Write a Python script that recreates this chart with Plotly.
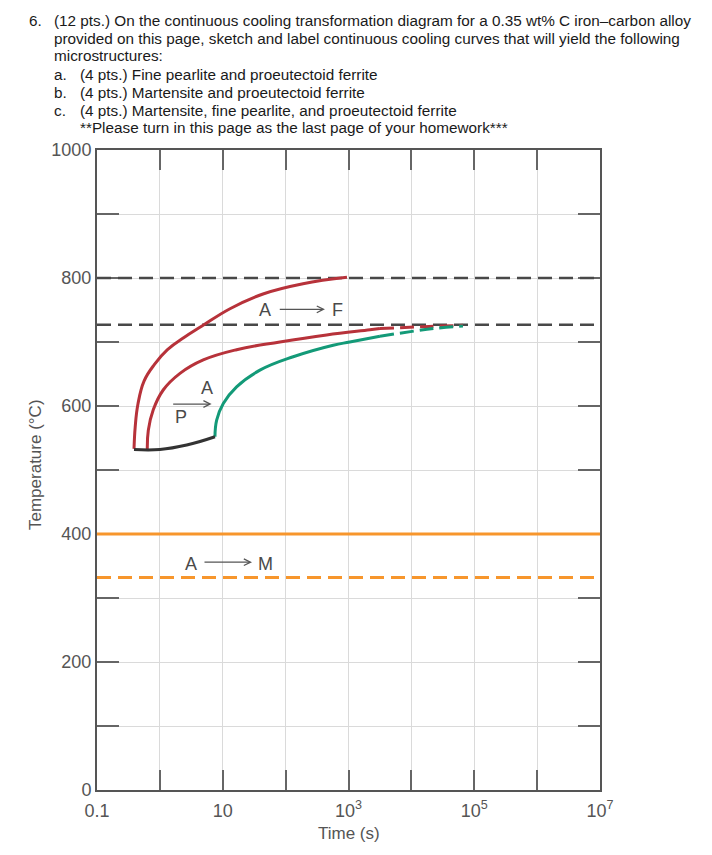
import math
import plotly.graph_objects as go

# ---------------- data ----------------
# axis ticks
x_tickvals = [0.1, 1, 10, 100, 1e3, 1e4, 1e5, 1e6, 1e7]
x_ticktext = ["0.1", "", "10", "", "10<sup>3</sup>", "", "10<sup>5</sup>", "", "10<sup>7</sup>"]
y_tickvals = [0, 100, 200, 300, 400, 500, 600, 700, 800, 900, 1000]
y_ticktext = ["0", "", "200", "", "400", "", "600", "", "800", "", "1000"]

# horizontal reference temperatures (deg C)
x_span = [0.1, 1e7]
T_A3 = 800          # upper dashed line
T_A1 = 727          # eutectoid dashed line
T_Ms = 400          # martensite start (solid orange)
T_M50 = 332         # dashed orange

# ferrite start curve (outer red)
ferr_t = [0.388, 0.405, 0.448, 0.560, 0.820, 1.32, 2.42, 4.68, 13.04, 43.7, 189, 946]
ferr_T = [533, 567, 603, 639, 665, 688, 707, 725, 752, 775, 791, 801]

# pearlite start curve (inner red) - solid and dashed parts
pstart_t = [0.631, 0.655, 0.785, 1.13, 2.09, 4.90, 16.6, 81.1, 449, 2188, 3162]
pstart_T = [532, 562, 594, 625, 651, 672, 688, 700, 711, 719, 721]
pstart_dash_t = [3162, 15850, 66070]
pstart_dash_T = [721, 724, 726]

# pearlite finish curve (green) - solid and dashed parts
pfin_t = [7.52, 8.0, 10.2, 16.6, 39.0, 132, 571, 1047, 3162]
pfin_T = [552, 578, 604, 630, 656, 677, 695, 700, 709]
pfin_dash_t = [3162, 22390, 66070]
pfin_dash_T = [709, 721, 725]

# bottom (black) boundary
bot_t = [0.388, 1.0, 2.67, 7.52]
bot_T = [532, 532, 539, 552]

# text labels: (text, time, temperature)
labels = [
    ("A", 47.4, 750), ("F", 667, 750),
    ("P", 2.13, 583), ("A", 5.65, 628),
    ("A", 3.18, 353), ("M", 47.9, 353),
]
# arrows: (tail time, head time, temperature)
arrows = [(76.4, 422, 751), (1.54, 6.65, 603), (4.85, 29.2, 356)]

problem_lines = [
    ("6.", 27, 21),
    ("(12 pts.) On the continuous cooling transformation diagram for a 0.35 wt% C iron\u2013carbon alloy", 52, 21),
    ("provided on this page, sketch and label continuous cooling curves that will yield the following", 52, 38.5),
    ("microstructures:", 52, 56),
    ("a.", 52, 74.5), ("(4 pts.) Fine pearlite and proeutectoid ferrite", 78, 74.5),
    ("b.", 52, 92.5), ("(4 pts.) Martensite and proeutectoid ferrite", 78, 92.5),
    ("c.", 52, 110), ("(4 pts.) Martensite, fine pearlite, and proeutectoid ferrite", 78, 110),
    ("**Please turn in this page as the last page of your homework***", 78, 128),
]

# ---------------- styling ----------------
W, H = 712, 855
ML, MR, MT, MB = 97, 112, 150, 65
PW, PH = W - ML - MR, H - MT - MB
RED = "#b7323a"
GREEN = "#139a78"
ORANGE = "#f7962c"
DGREY = "#484848"
TXT = "#4a4a4a"
FONT = "Liberation Sans, Arial, sans-serif"


def px2paper(px, py):
    return (px - ML) / PW, (H - MB - py) / PH


fig = go.Figure()


def add_line(x, y, color, width, dash="solid", spline=True):
    fig.add_trace(go.Scatter(
        x=x, y=y, mode="lines",
        line=dict(color=color, width=width, dash=dash,
                  shape="spline" if spline else "linear", smoothing=1.2),
        hoverinfo="skip", showlegend=False))


add_line(x_span, [T_A3, T_A3], DGREY, 2.5, "14px,7px", False)
add_line(x_span, [T_A1, T_A1], DGREY, 2.5, "14px,7px", False)
add_line(x_span, [T_Ms, T_Ms], ORANGE, 3, "solid", False)
add_line(x_span, [T_M50, T_M50], ORANGE, 3, "14px,7px", False)

add_line(ferr_t, ferr_T, RED, 3)
add_line(pstart_t, pstart_T, RED, 3)
add_line(pstart_dash_t, pstart_dash_T, RED, 3, "14px,6px")
add_line(pfin_t, pfin_T, GREEN, 3)
add_line(pfin_dash_t, pfin_dash_T, GREEN, 3, "14px,6px")
add_line(bot_t, bot_T, "#333333", 3)

annotations = []
for txt, t, T in labels:
    annotations.append(dict(x=math.log10(t), y=T, xref="x", yref="y", text=txt,
                            showarrow=False, font=dict(family=FONT, size=18, color=TXT),
                            xanchor="center", yanchor="middle"))
for t0, t1, T in arrows:
    annotations.append(dict(x=math.log10(t1), y=T, ax=math.log10(t0), ay=T,
                            xref="x", yref="y", axref="x", ayref="y", text="",
                            showarrow=True, arrowhead=5, arrowsize=1.1,
                            arrowwidth=1.2, arrowcolor="#555555"))
for txt, px, py in problem_lines:
    xp, yp = px2paper(px, py)
    annotations.append(dict(x=xp, y=yp, xref="paper", yref="paper", text=txt,
                            showarrow=False, xanchor="left", yanchor="middle",
                            font=dict(family=FONT, size=15.3, color="#1a1a1a")))
# axis titles
xp, yp = px2paper(35, 465)
annotations.append(dict(x=xp, y=yp, xref="paper", yref="paper", text="Temperature (\u00b0C)",
                        textangle=-90, showarrow=False, xanchor="center", yanchor="middle",
                        font=dict(family=FONT, size=17, color="#555555")))
xp, yp = px2paper(349, 833)
annotations.append(dict(x=xp, y=yp, xref="paper", yref="paper", text="Time (s)",
                        showarrow=False, xanchor="center", yanchor="middle",
                        font=dict(family=FONT, size=17, color="#555555")))

axis_common = dict(showline=True, linecolor="#555555", linewidth=2, mirror="ticks",
                   ticks="inside", tickcolor="#666666", tickwidth=1.5,
                   showgrid=True, gridcolor="#dadada", gridwidth=1.2, zeroline=False,
                   layer="below traces",
                   tickfont=dict(family=FONT, size=18, color="#555555"))

fig.update_layout(
    width=W, height=H,
    margin=dict(l=ML, r=MR, t=MT, b=MB, autoexpand=False),
    paper_bgcolor="white", plot_bgcolor="white",
    xaxis=dict(type="log", range=[-1, 7], tickvals=x_tickvals, ticktext=x_ticktext,
               ticklen=20, ticklabelstandoff=3, **axis_common),
    yaxis=dict(range=[0, 1000], tickvals=y_tickvals, ticktext=y_ticktext,
               ticklen=22, **axis_common),
    annotations=annotations,
    showlegend=False,
)

fig.write_html("out.html")
